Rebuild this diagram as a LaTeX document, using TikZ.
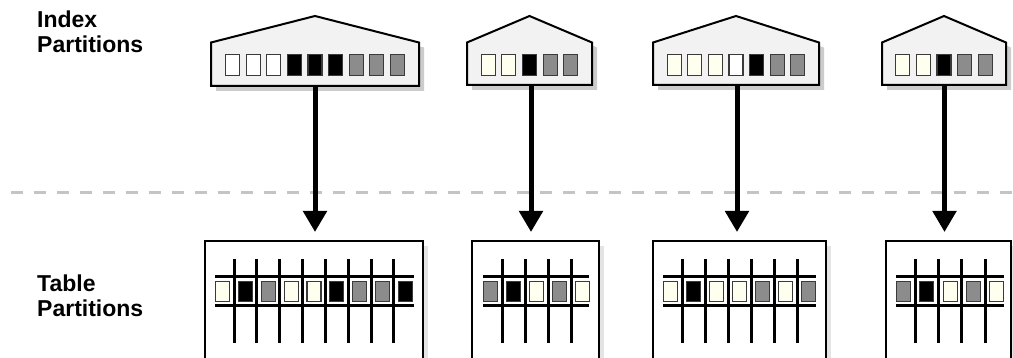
\documentclass[tikz,border=0pt]{standalone}
\usepackage{fontspec}
\setmainfont{Liberation Sans}
\usetikzlibrary{arrows.meta}
\definecolor{cW}{HTML}{FFFFFF}
\definecolor{cC}{HTML}{FFFFF0}
\definecolor{cK}{HTML}{000000}
\definecolor{cG}{HTML}{8C8C8C}
\definecolor{houseFill}{HTML}{F2F2F2}
\definecolor{houseShadow}{HTML}{CCCCCC}
\definecolor{boxShadow}{HTML}{E4E4E4}
\definecolor{dashGray}{HTML}{C4C4C4}
\definecolor{sqBorder}{HTML}{3A3A3A}
\tikzset{
  housebody/.style={draw=black, line width=2pt, fill=houseFill, line join=miter},
  houseshade/.style={fill=houseShadow},
  tablebody/.style={draw=black, line width=2.2pt, fill=white},
  tableshade/.style={fill=boxShadow},
  rail/.style={draw=black, line width=3pt},
  idxsq/.style={draw=sqBorder, line width=1.1pt, minimum width=14pt, minimum height=21pt, inner sep=0pt, outer sep=0pt},
  tabsq/.style={draw=sqBorder, line width=1.1pt, minimum width=14pt, minimum height=20pt, inner sep=0pt, outer sep=0pt,
     preaction={draw=white, line width=4.5pt}},
  dashline/.style={draw=dashGray, line width=3pt, dash pattern=on 12pt off 11pt},
  arr/.style={draw=black, line width=5pt, -{Triangle[width=23pt,length=21pt]}},
  lbl/.style={font=\fontsize{23}{25}\selectfont\bfseries, align=left, inner sep=0pt, anchor=base west},
}
% #1 name, #2 cx, #3 half width, #4 bottom, #5 n, #6 colours
\newcommand\drawhouse[6]{%
  \fill[houseshade] ({#2-#3+5},47.5) -- ({#2+5},21) -- ({#2+#3+5},47.5) -- ({#2+#3+5},{#4+5}) -- ({#2-#3+5},{#4+5}) -- cycle;
  \draw[housebody] ({#2-#3},42.5) -- (#2,16) -- ({#2+#3},42.5) -- ({#2+#3},#4) -- ({#2-#3},#4) -- cycle;
  \coordinate (#1b) at (#2,#4);
  \foreach \c [count=\k from 0] in {#6} {
    \node[idxsq, fill=\c] (#1s\k) at ({#2+(\k-(#5-1)/2)*20.6},65) {};
  }
}
% #1 name, #2 L, #3 R, #4 rail L, #5 rail R, #6 first centre, #7 pitch, #8 n, #9 colours
\newcommand\drawtable[9]{%
  \fill[tableshade] ({#2+5},246) rectangle ({#3+5},370);
  \draw[tablebody] (#2,241) rectangle (#3,370);
  \coordinate (#1t) at ({(#2+#3)/2},241);
  \draw[rail] (#4,277) -- (#5,277);
  \draw[rail] (#4,306) -- (#5,306);
  \foreach \k in {1,...,\numexpr#8-1\relax} {
    \draw[rail] ({#6+(\k-0.5)*#7},259) -- ({#6+(\k-0.5)*#7},343);
  }
  \foreach \c [count=\k from 0] in {#9} {
    \node[tabsq, fill=\c] (#1s\k) at ({#6+\k*#7},291.5) {};
  }
}
\begin{document}
\begin{tikzpicture}[x=1pt,y=-1pt]
  \useasboundingbox (0,0) rectangle (1013,358);
  \clip (0,0) rectangle (1013,358);
  \fill[white] (0,0) rectangle (1013,358);

  \node[lbl] (idxlbl) at (37,53) {Index\\Partitions};
  \node[lbl] (tablbl) at (37,317) {Table\\Partitions};

  \coordinate (dl) at (11,193);
  \coordinate (dr) at (1013,193);
  \draw[dashline] (dl) -- (dr);

  \drawhouse{h1}{315}{104}{86}{9}{cW,cW,cW,cK,cK,cK,cG,cG,cG}
  \drawhouse{h2}{529.5}{62.5}{85}{5}{cC,cC,cK,cG,cG}
  \drawhouse{h3}{736}{83}{85}{7}{cC,cC,cC,cW,cK,cG,cG}
  \drawhouse{h4}{944}{62}{85}{5}{cC,cC,cK,cG,cG}

  \drawtable{t1}{205}{423}{215}{414}{222.6}{22.85}{9}{cC,cK,cG,cC,cC,cK,cG,cG,cK}
  \drawtable{t2}{472}{599}{483}{589}{490.6}{23}{5}{cG,cK,cC,cG,cC}
  \drawtable{t3}{653}{826}{663}{816}{670.5}{23}{7}{cC,cK,cC,cC,cG,cC,cG}
  \drawtable{t4}{886}{1011}{896}{1004}{903.5}{23.3}{5}{cG,cK,cC,cG,cC}

  \coordinate (a1) at (315,232);
  \coordinate (a2) at (531,232);
  \coordinate (a3) at (737,232);
  \coordinate (a4) at (944.5,232);
  \draw[arr] (h1b) -- (a1);
  \draw[arr] (h2b -| a2) -- (a2);
  \draw[arr] (h3b -| a3) -- (a3);
  \draw[arr] (h4b -| a4) -- (a4);
\end{tikzpicture}
\end{document}
